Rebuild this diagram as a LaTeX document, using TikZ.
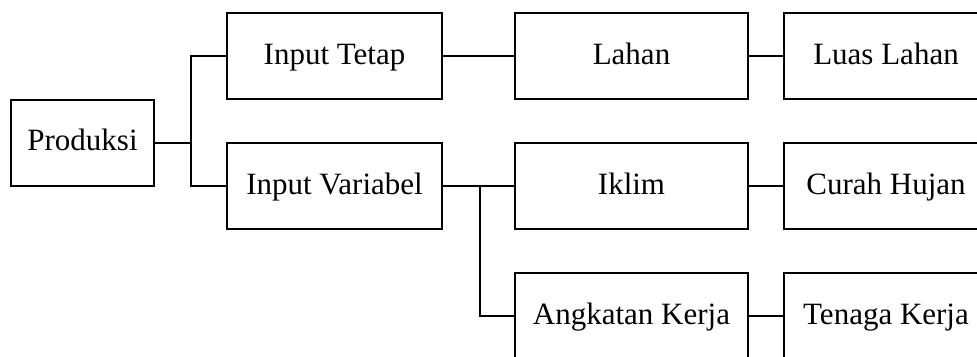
\documentclass[tikz,border=0pt]{standalone}
\usepackage{fontspec}
\setmainfont{Liberation Serif}
\begin{document}
\begin{tikzpicture}[x=0.4pt, y=-0.4pt, line width=0.8pt,
    box/.style={draw, rectangle, minimum height=34.4pt, inner sep=0pt,
      text height=0.66em, text depth=0pt,
      font=\fontsize{12.4}{14}\selectfont},
    level1/.style={box, minimum width=86pt},
    level2/.style={box, minimum width=93.2pt},
    level3/.style={box, minimum width=81.6pt}]
  \useasboundingbox (0,0) rectangle (977,356);
  \clip (0,0) rectangle (977,356);
  \node[box, minimum width=57.2pt] (prod) at (82.5,142.5) {Produksi};
  \node[level1] (tetap) at (334.5,56) {Input Tetap};
  \node[level1] (var) at (334.5,186) {Input Variabel};
  \node[level2] (lahan) at (631.5,56) {Lahan};
  \node[level2] (iklim) at (631.5,186) {Iklim};
  \node[level2] (angkatan) at (631.5,316) {Angkatan Kerja};
  \node[level3] (luas) at (886,56) {Luas Lahan};
  \node[level3] (curah) at (886,186) {Curah Hujan};
  \node[level3] (tenaga) at (886,316) {Tenaga Kerja};
  % cabang dari produksi
  \draw (prod.east) -- ++(36,0) coordinate (fork1) |- (tetap.west);
  \draw (fork1) |- (var.west);
  % cabang input
  \draw (tetap) -- (lahan);
  \draw (var) -- (iklim);
  \draw (var.east) -- ++(37,0) coordinate (fork2) |- (angkatan.west);
  % indikator
  \draw (lahan) -- (luas);
  \draw (iklim) -- (curah);
  \draw (angkatan) -- (tenaga);
\end{tikzpicture}
\end{document}
